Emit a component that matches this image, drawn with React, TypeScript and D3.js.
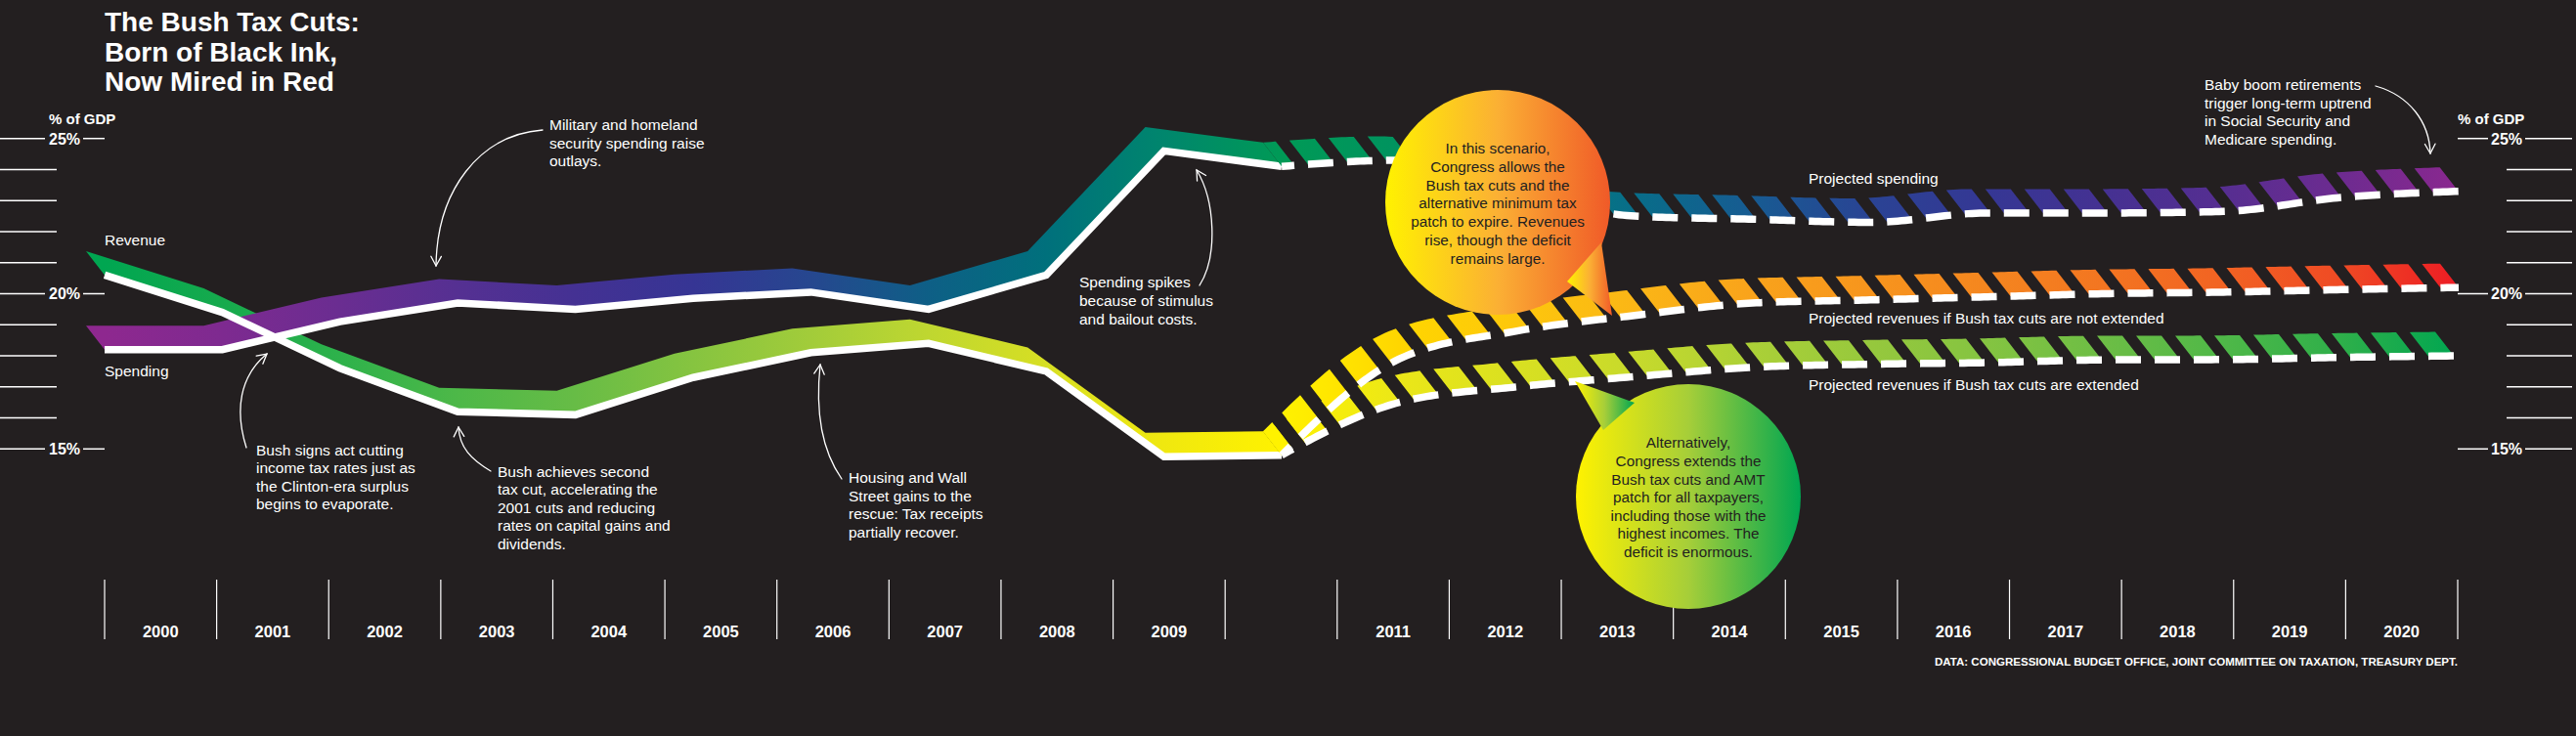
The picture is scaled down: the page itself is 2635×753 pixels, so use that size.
import React from 'react';
import * as d3 from 'd3';

const W = 2635;
const H = 753;
const BG = '#231f20';
const FONT = "'Liberation Sans', Arial, Helvetica, sans-serif";

// ---------- data ----------
const histYears = [2000, 2001, 2002, 2003, 2004, 2005, 2006, 2007, 2008, 2009, 2010];
const projYears = [2010, 2011, 2012, 2013, 2014, 2015, 2016, 2017, 2018, 2019, 2020];
const spendingHist = [18.2, 18.2, 19.1, 19.7, 19.5, 19.85, 20.05, 19.5, 20.6, 24.6, 24.1];
const revenueHist = [20.6, 19.4, 17.6, 16.2, 16.1, 17.3, 18.1, 18.4, 17.5, 14.75, 14.8];
const spendingProj = [24.1, 24.3, 23.3, 22.5, 22.4, 22.3, 22.6, 22.6, 22.65, 23.1, 23.3];
const revenueNotExtended = [14.8, 17.9, 18.8, 19.3, 19.7, 19.8, 19.9, 20.0, 20.05, 20.13, 20.2];
const revenueExtended = [14.8, 16.5, 17.0, 17.33, 17.63, 17.73, 17.78, 17.87, 17.88, 17.95, 18.0];

const axisYears = d3.range(2000, 2021);
const yearLabels = axisYears.map((yr) => (yr === 2010 ? '' : String(yr)));
const yTicks = d3.range(15, 26);
const yMajor = [15, 20, 25];

const spendingColors = ['#8e288f', '#7e2a90', '#6a2d91', '#553092', '#443193', '#363594', '#26478f', '#0e5f86', '#00707c', '#00866d', '#009a56',
  '#00935f', '#00807a', '#086d89', '#175b92', '#2a4394', '#353794', '#453192', '#562e91', '#6d2b90', '#8a288f'];
const revenueColors = ['#00a651', '#16aa4d', '#2eb24b', '#4db848', '#67bc46', '#86c440', '#a2cc3a', '#bfd730', '#d7df23', '#f0e80f', '#fff200'];
const notExtColors = ['#fff200', '#ffd600', '#fdc70c', '#fbb616', '#f9a31b', '#f7951d', '#f5861f', '#f37521', '#f26323', '#ef4a24', '#ed1c24'];
const extColors = ['#fff200', '#ebe718', '#d9e021', '#c7da2c', '#abd037', '#96c83d', '#84c441', '#6cbd45', '#4fb848', '#2eaf4a', '#00a651'];

// ---------- scales ----------
const xData = d3.scaleLinear().domain([2000, 2020]).range([107, 2515]);
const xCells = d3.scaleBand<string>().domain(axisYears.map(String)).range([107, 2514]);
const y = d3.scaleLinear().domain([15, 25]).range([459.3, 141.7]);
const EXT: [number, number] = [-19, -24.5];
const WHITE_W = 7.5;

type Pt = [number, number];

const ptsOf = (years: number[], vals: number[]): Pt[] => years.map((yr, i) => [xData(yr), y(vals[i])] as Pt);

function sampleCurve(pts: Pt[], curve: any): Pt[] {
  const out: Pt[] = [];
  let cx = 0, cy = 0;
  const ctx: any = {
    beginPath() {},
    closePath() {},
    moveTo(x: number, yy: number) { out.push([x, yy]); cx = x; cy = yy; },
    lineTo(x: number, yy: number) { out.push([x, yy]); cx = x; cy = yy; },
    bezierCurveTo(x1: number, y1: number, x2: number, y2: number, x: number, yy: number) {
      const n = 30;
      for (let i = 1; i <= n; i++) {
        const t = i / n, m = 1 - t;
        out.push([
          m * m * m * cx + 3 * m * m * t * x1 + 3 * m * t * t * x2 + t * t * t * x,
          m * m * m * cy + 3 * m * m * t * y1 + 3 * m * t * t * y2 + t * t * t * yy,
        ]);
      }
      cx = x; cy = yy;
    },
    quadraticCurveTo(x1: number, y1: number, x: number, yy: number) { out.push([x, yy]); cx = x; cy = yy; },
    arc() {}, rect() {},
  };
  (d3.line().curve(curve).context(ctx) as any)(pts);
  return out;
}

function splitDashes(poly: Pt[], on: number, off: number, phase: number): Pt[][] {
  const period = on + off;
  const res: Pt[][] = [];
  let pos = phase;
  let inDash = pos < on;
  let cur: Pt[] | null = inDash ? [poly[0]] : null;
  for (let i = 0; i < poly.length - 1; i++) {
    const [x0, y0] = poly[i];
    const [x1, y1] = poly[i + 1];
    const len = Math.hypot(x1 - x0, y1 - y0);
    if (len === 0) continue;
    let t = 0;
    while (t < len - 1e-9) {
      const remaining = inDash ? on - pos : period - pos;
      const avail = len - t;
      if (remaining <= avail) {
        t += remaining;
        const p: Pt = [x0 + ((x1 - x0) * t) / len, y0 + ((y1 - y0) * t) / len];
        if (inDash) {
          cur!.push(p);
          res.push(cur!);
          cur = null;
          inDash = false;
          pos = on;
        } else {
          pos = 0;
          inDash = true;
          cur = [p];
        }
      } else {
        t = len;
        pos += avail;
        if (inDash) cur!.push([x1, y1]);
      }
    }
  }
  if (cur && cur.length > 1) res.push(cur);
  return res;
}

function extrude(poly: Pt[]): string {
  const top = poly.map(([px, py]) => [px + EXT[0], py + EXT[1]] as Pt).reverse();
  return [...poly, ...top].map((p) => `${p[0].toFixed(2)},${p[1].toFixed(2)}`).join(' ');
}

const lineGen = d3.line<Pt>();

function Grad({ id, years, colors }: { id: string; years: number[]; colors: string[] }) {
  const a = xData(years[0]) - 19;
  const b = xData(years[years.length - 1]);
  return (
    <linearGradient id={id} gradientUnits="userSpaceOnUse" x1={a} y1={0} x2={b} y2={0}>
      {years.map((yr, i) => (
        <stop key={i} offset={Math.max(0, (xData(yr) - a) / (b - a))} stopColor={colors[i]} />
      ))}
    </linearGradient>
  );
}

function Solid({ pts, fill }: { pts: Pt[]; fill: string }) {
  return <polygon points={extrude(pts)} fill={fill} />;
}

function Dashed({ vals, fill }: { vals: number[]; fill: string }) {
  const pts = ptsOf(projYears, vals);
  const dense = sampleCurve(pts, d3.curveMonotoneX);
  const dashes = splitDashes(dense, 26, 14, 13);
  return (
    <g>
      {dashes.map((d, i) => (
        <polygon key={'c' + i} points={extrude(d)} fill={fill} />
      ))}
      {dashes.map((d, i) => (
        <path key={'w' + i} d={lineGen(d) || ''} stroke="#fff" strokeWidth={WHITE_W} fill="none" strokeLinecap="butt" strokeLinejoin="round" />
      ))}
    </g>
  );
}

function TextBlock({ x, y0, lines, lh = 18.6, size = 15.5, fill = '#fff', anchor = 'start', weight = 'normal' }: any) {
  return (
    <text fontSize={size} fill={fill} textAnchor={anchor} fontFamily={FONT} fontWeight={weight}>
      {lines.map((l: string, i: number) => (
        <tspan key={i} x={x} y={y0 + i * lh}>{l}</tspan>
      ))}
    </text>
  );
}

type Arrow = { p0: Pt; c1: Pt; c2: Pt; p3: Pt };
const arrows: Arrow[] = [
  { p0: [555, 133], c1: [490, 138], c2: [447, 195], p3: [446, 272] },
  { p0: [252, 458], c1: [240, 420], c2: [245, 385], p3: [273, 362] },
  { p0: [502, 482], c1: [482, 470], c2: [470, 458], p3: [469, 437] },
  { p0: [861, 490], c1: [840, 460], c2: [834, 420], p3: [839, 373] },
  { p0: [1227, 292], c1: [1246, 262], c2: [1243, 205], p3: [1224, 174] },
  { p0: [2430, 88], c1: [2465, 98], c2: [2485, 125], p3: [2486, 157] },
];

function ArrowPath({ a }: { a: Arrow }) {
  const { p0, c1, c2, p3 } = a;
  const ang = Math.atan2(p3[1] - c2[1], p3[0] - c2[0]);
  const L = 11, sp = 0.5;
  const h1: Pt = [p3[0] - L * Math.cos(ang - sp), p3[1] - L * Math.sin(ang - sp)];
  const h2: Pt = [p3[0] - L * Math.cos(ang + sp), p3[1] - L * Math.sin(ang + sp)];
  return (
    <g fill="none" stroke="#fff" strokeWidth={1.3} strokeLinecap="round">
      <path d={`M${p0[0]},${p0[1]} C${c1[0]},${c1[1]} ${c2[0]},${c2[1]} ${p3[0]},${p3[1]}`} />
      <path d={`M${h1[0]},${h1[1]} L${p3[0]},${p3[1]} L${h2[0]},${h2[1]}`} />
    </g>
  );
}

export default function App() {
  const spendH = ptsOf(histYears, spendingHist);
  const revH = ptsOf(histYears, revenueHist);
  const bw = xCells.bandwidth();

  return (
    <svg width={W} height={H} style={{ position: 'absolute', left: 0, top: 0, background: BG }} fontFamily={FONT}>
      <defs>
        <Grad id="gSpend" years={axisYears} colors={spendingColors} />
        <Grad id="gRev" years={histYears} colors={revenueColors} />
        <Grad id="gHigh" years={projYears} colors={notExtColors} />
        <Grad id="gLow" years={projYears} colors={extColors} />
        <linearGradient id="gBubble1" x1="0" y1="0" x2="1" y2="0">
          <stop offset="0" stopColor="#fff200" />
          <stop offset="0.5" stopColor="#fbb034" />
          <stop offset="1" stopColor="#f05a28" />
        </linearGradient>
        <linearGradient id="gBubble2" x1="0" y1="0" x2="1" y2="0">
          <stop offset="0" stopColor="#fff200" />
          <stop offset="0.5" stopColor="#a6ce39" />
          <stop offset="1" stopColor="#00a651" />
        </linearGradient>
      </defs>
      <rect x={0} y={0} width={W} height={H} fill={BG} />

      {/* Title */}
      <TextBlock x={107} y0={32} lh={30.7} size={28} weight="bold" lines={['The Bush Tax Cuts:', 'Born of Black Ink,', 'Now Mired in Red']} />

      {/* Left axis */}
      <text x={50} y={127} fill="#fff" fontSize={15} fontWeight="bold">% of GDP</text>
      {yTicks.map((t) => {
        const yy = y(t);
        if (yMajor.includes(t)) {
          return (
            <g key={'l' + t}>
              <line x1={0} x2={46} y1={yy} y2={yy} stroke="#fff" strokeWidth={1.5} />
              <line x1={85} x2={107} y1={yy} y2={yy} stroke="#fff" strokeWidth={1.5} />
              <text x={66} y={yy + 5.8} fill="#fff" fontSize={16} fontWeight="bold" textAnchor="middle">{t}%</text>
            </g>
          );
        }
        return <line key={'l' + t} x1={0} x2={58} y1={yy} y2={yy} stroke="#fff" strokeWidth={1.5} />;
      })}

      {/* Right axis */}
      <text x={2514} y={127} fill="#fff" fontSize={15} fontWeight="bold">% of GDP</text>
      {yTicks.map((t) => {
        const yy = y(t);
        if (yMajor.includes(t)) {
          return (
            <g key={'r' + t}>
              <line x1={2514} x2={2545} y1={yy} y2={yy} stroke="#fff" strokeWidth={1.5} />
              <line x1={2583} x2={2631} y1={yy} y2={yy} stroke="#fff" strokeWidth={1.5} />
              <text x={2564} y={yy + 5.8} fill="#fff" fontSize={16} fontWeight="bold" textAnchor="middle">{t}%</text>
            </g>
          );
        }
        return <line key={'r' + t} x1={2564} x2={2631} y1={yy} y2={yy} stroke="#fff" strokeWidth={1.5} />;
      })}

      {/* Year cells */}
      {axisYears.map((yr, i) => {
        const x0 = xCells(String(yr))!;
        return (
          <g key={'c' + yr}>
            <line x1={x0} x2={x0} y1={593} y2={654} stroke="#fff" strokeWidth={1.2} />
            {yearLabels[i] && (
              <text x={x0 + bw / 2} y={652} fill="#fff" fontSize={16.5} fontWeight="bold" textAnchor="middle">{yearLabels[i]}</text>
            )}
          </g>
        );
      })}
      <line x1={xCells.range()[1]} x2={xCells.range()[1]} y1={593} y2={654} stroke="#fff" strokeWidth={1.2} />

      {/* Historic ribbons */}
      <Solid pts={revH} fill="url(#gRev)" />
      <Solid pts={spendH} fill="url(#gSpend)" />
      <path d={lineGen(revH) || ''} stroke="#fff" strokeWidth={WHITE_W} fill="none" strokeLinejoin="miter" />
      <path d={lineGen(spendH) || ''} stroke="#fff" strokeWidth={WHITE_W} fill="none" strokeLinejoin="miter" />

      {/* Projections */}
      <Dashed vals={spendingProj} fill="url(#gSpend)" />
      <Dashed vals={revenueExtended} fill="url(#gLow)" />
      <Dashed vals={revenueNotExtended} fill="url(#gHigh)" />

      {/* Bubbles */}
      <g fill="url(#gBubble1)">
        <ellipse cx={1532} cy={207} rx={115} ry={115} />
        <polygon points="1603,288 1649,323 1638,248" />
      </g>
      <TextBlock x={1532} y0={157.3} lh={18.7} size={15.3} fill="#231f20" anchor="middle"
        lines={['In this scenario,', 'Congress allows the', 'Bush tax cuts and the', 'alternative minimum tax', 'patch to expire. Revenues', 'rise, though the deficit', 'remains large.']} />
      <g fill="url(#gBubble2)">
        <ellipse cx={1727} cy={508} rx={115} ry={115} />
        <polygon points="1611,390 1640,440 1672,412" />
      </g>
      <TextBlock x={1727} y0={458.3} lh={18.6} size={15.3} fill="#231f20" anchor="middle"
        lines={['Alternatively,', 'Congress extends the', 'Bush tax cuts and AMT', 'patch for all taxpayers,', 'including those with the', 'highest incomes. The', 'deficit is enormous.']} />

      {/* Labels */}
      <TextBlock x={107} y0={250.5} lines={['Revenue']} />
      <TextBlock x={107} y0={385} lines={['Spending']} />
      <TextBlock x={562} y0={133} lines={['Military and homeland', 'security spending raise', 'outlays.']} />
      <TextBlock x={262} y0={465.5} lines={['Bush signs act cutting', 'income tax rates just as', 'the Clinton-era surplus', 'begins to evaporate.']} />
      <TextBlock x={509} y0={487.5} lines={['Bush achieves second', 'tax cut, accelerating the', '2001 cuts and reducing', 'rates on capital gains and', 'dividends.']} />
      <TextBlock x={868} y0={494} lines={['Housing and Wall', 'Street gains to the', 'rescue: Tax receipts', 'partially recover.']} />
      <TextBlock x={1104} y0={294} lh={19} lines={['Spending spikes', 'because of stimulus', 'and bailout costs.']} />
      <TextBlock x={2255} y0={92} lines={['Baby boom retirements', 'trigger long-term uptrend', 'in Social Security and', 'Medicare spending.']} />
      <TextBlock x={1850} y0={188} lines={['Projected spending']} />
      <TextBlock x={1850} y0={330.5} lines={['Projected revenues if Bush tax cuts are not extended']} />
      <TextBlock x={1850} y0={398.5} lines={['Projected revenues if Bush tax cuts are extended']} />

      {arrows.map((a, i) => <ArrowPath key={i} a={a} />)}

      <text x={2514} y={680.5} fill="#fff" fontSize={10} fontWeight="bold" textAnchor="end" textLength={535} lengthAdjust="spacingAndGlyphs">
        DATA: CONGRESSIONAL BUDGET OFFICE, JOINT COMMITTEE ON TAXATION, TREASURY DEPT.
      </text>
    </svg>
  );
}
